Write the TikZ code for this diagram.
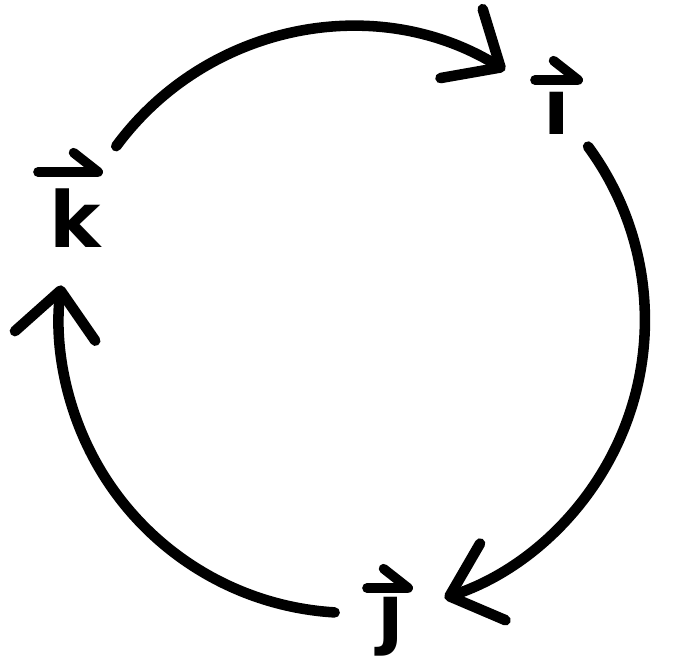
\documentclass[tikz,border=0pt]{standalone}
\usepackage{fontspec}
\setmainfont{DejaVu Sans}
\usetikzlibrary{arrows.meta}

\begin{document}
\begin{tikzpicture}[
    x=0.02cm, y=0.02cm,
    every node/.style={font=\fontsize{44}{50}\selectfont\bfseries},
    lbl/.style={inner sep=0pt},
    ring/.style={line width=6pt, line cap=round,
                 -{Straight Barb[length=26pt, width=46pt, round]}},
    vecbar/.style={line width=5.5pt, line cap=round,
                   -{Straight Barb[harpoon, length=14pt, width=22pt, round]}}
]
\useasboundingbox (0,0) rectangle (683,664);
% centre of the cycle
\coordinate (o) at (352,344);
% unit vectors
\node[lbl] (k) at (75,446) {k};
\node[lbl] (i) at (557,551) {ı};
\node[lbl] (j) at (391,37) {ȷ};
% arrows over the letters
\coordinate (k-a) at (38,492);  \coordinate (k-b) at (103,492);
\coordinate (i-a) at (535,584); \coordinate (i-b) at (583,584);
\coordinate (j-a) at (367,76);  \coordinate (j-b) at (413,76);
\foreach \n in {k,i,j} {
    \draw[vecbar] (\n-a) -- (\n-b);
}
% cycle k -> i -> j -> k
\foreach \n/\s/\e in {k/143.6/58.5, i/36.3/-71.6, j/266.6/173.2} {
    \coordinate (\n-out) at ([shift={(\s:5.86cm)}]o);
    \draw[ring] (\n-out) arc[start angle=\s, end angle=\e, radius=5.86cm];
}
\end{tikzpicture}
\end{document}
